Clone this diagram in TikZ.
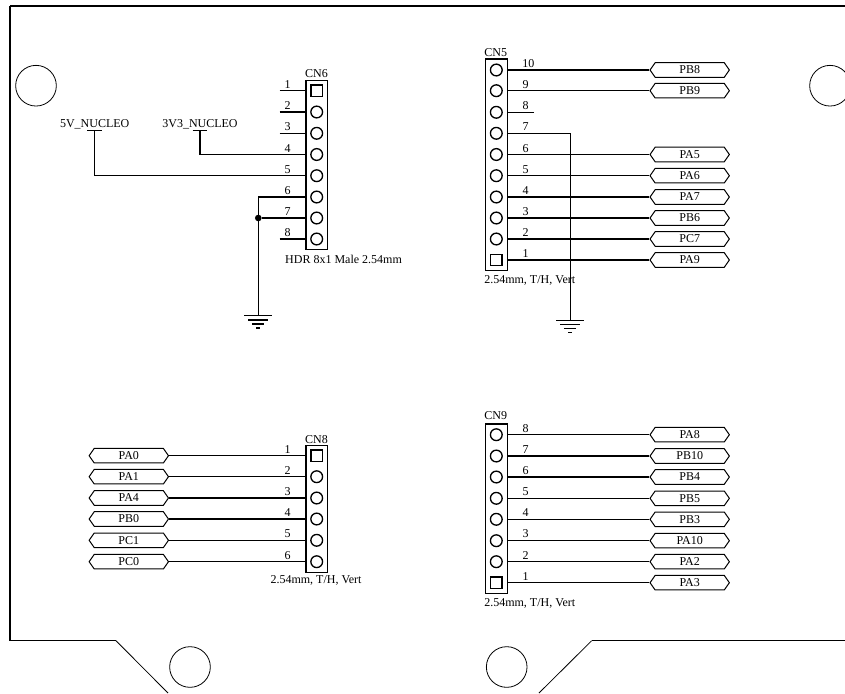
\documentclass[tikz,border=0pt]{standalone}
\usepackage{fontspec}
\setmainfont{Liberation Serif}
\usetikzlibrary{shapes.symbols}
\tikzset{
  every node/.style={inner sep=0pt,font=\fontsize{9}{10}\selectfont},
  wire/.style={line width=.8pt},
  hdr/.style={draw,rectangle,line width=.9pt,minimum width=16.2pt},
  hole/.style={draw,circle,line width=1pt,minimum size=8.8pt},
  sqhole/.style={draw,rectangle,line width=1pt,minimum size=8.4pt},
  net/.style={draw,signal,signal to=east and west,signal pointer angle=110,
    line width=.75pt,minimum width=59.5pt,minimum height=10.9pt},
  mount/.style={draw,circle,line width=.6pt,minimum size=30.5pt},
  dot/.style={fill,circle,minimum size=5pt},
}
\newcommand*{\gndbars}[1]{%
  \draw[wire] ([xshift=-10.5pt]#1) -- ([xshift=10.5pt]#1);
  \draw[wire] ([xshift=-7.5pt,yshift=-3.2pt]#1) -- ([xshift=7.5pt,yshift=-3.2pt]#1);
  \draw[wire] ([xshift=-4.5pt,yshift=-6.2pt]#1) -- ([xshift=4.5pt,yshift=-6.2pt]#1);
  \draw[wire] ([xshift=-1.6pt,yshift=-9.2pt]#1) -- ([xshift=1.6pt,yshift=-9.2pt]#1);
}

\begin{document}
\begin{tikzpicture}[x=.75pt,y=-.75pt]
\clip (0,0) rectangle (845,693);
% board outline
\coordinate (tl) at (10,6);
\coordinate (tr) at (845,6);
\coordinate (bl) at (10,640.7);
\coordinate (bla) at (116,640.7);
\coordinate (blb) at (168,693);
\coordinate (bra) at (539,693);
\coordinate (brb) at (591.7,640.7);
\coordinate (brc) at (845,640.7);
\draw[line width=1.3pt] (bl) -- (tl);
\draw[wire] (tl) -- (tr);
\draw[wire] (bl) -- (bla);
\draw[line width=.6pt] (bla) -- (blb);
\draw[line width=.6pt] (bra) -- (brb);
\draw[wire] (brb) -- (brc);
\node[mount] (mtl) at (36,85.7) {};
\node[mount] (mtr) at (830,85.7) {};
\node[mount] (mbl) at (190,667) {};
\node[mount] (mbr) at (506.7,667) {};

% CN6
\node[hdr,minimum height=127pt] (cn6) at (316.7,165) {};
\node (t6) at (316.5,73.5) {CN6};
\node (v6) at (343.5,259.5) {HDR 8x1 Male 2.54mm};
\node[sqhole] (p61) at (316.7,90.7) {};
\node[hole] (p62) at (316.7,112) {};
\node[hole] (p63) at (316.7,133.3) {};
\node[hole] (p64) at (316.7,154.5) {};
\node[hole] (p65) at (316.7,175.7) {};
\node[hole] (p66) at (316.7,197) {};
\node[hole] (p67) at (316.7,218) {};
\node[hole] (p68) at (316.7,239) {};
\node (n61) at (287.7,85) {1};
\node (n62) at (287.7,106) {2};
\node (n63) at (287.7,127) {3};
\node (n64) at (287.7,148.5) {4};
\node (n65) at (287.7,169.5) {5};
\node (n66) at (287.7,191) {6};
\node (n67) at (287.7,212) {7};
\node (n68) at (287.7,233) {8};
\coordinate (e61) at (279.5,90.7);
\coordinate (e62) at (279.5,112);
\coordinate (e63) at (279.5,133.3);
\coordinate (e68) at (279.5,239);
\draw[wire] (e61) -- (e61 -| cn6.west);
\draw[wire] (e62) -- (e62 -| cn6.west);
\draw[wire] (e63) -- (e63 -| cn6.west);
\draw[wire] (e68) -- (e68 -| cn6.west);
\node (v5n) at (94.7,124.5) {5V\_NUCLEO};
\node (v3n) at (200,124.5) {3V3\_NUCLEO};
\coordinate (v5t) at (94.7,130.7);
\coordinate (v3t) at (200,130.7);
\draw[wire] ([xshift=-5.5pt]v5t) -- ([xshift=5.5pt]v5t);
\draw[wire] ([xshift=-5.5pt]v3t) -- ([xshift=5.5pt]v3t);
\draw[wire] (v3t) |- (p64 -| cn6.west);
\draw[wire] (v5t) |- (p65 -| cn6.west);
\node[dot] (j6) at (258.3,218) {};
\coordinate (g6) at (258.3,315.7);
\draw[wire] (g6) |- (p66 -| cn6.west);
\draw[wire] (j6) -- (p67 -| cn6.west);
\gndbars{g6}

% CN5
\node[hdr,minimum height=158.8pt] (cn5) at (496.5,164.9) {};
\node (t5) at (495.7,52.5) {CN5};
\node (v5) at (529.8,280) {2.54mm, T/H, Vert};
\node[hole] (p510) at (496.3,70) {};
\node[hole] (p59) at (496.3,90.7) {};
\node[hole] (p58) at (496.3,112.3) {};
\node[hole] (p57) at (496.3,133.3) {};
\node[hole] (p56) at (496.3,154.5) {};
\node[hole] (p55) at (496.3,175.7) {};
\node[hole] (p54) at (496.3,197) {};
\node[hole] (p53) at (496.3,218) {};
\node[hole] (p52) at (496.3,239) {};
\node[sqhole] (p51) at (496.3,260) {};
\node (n510) at (528.3,63.5) {10};
\node (n59) at (525.5,84.5) {9};
\node (n58) at (525.5,106) {8};
\node (n57) at (525.5,127) {7};
\node (n56) at (525.5,148.5) {6};
\node (n55) at (525.5,169.5) {5};
\node (n54) at (525.5,191) {4};
\node (n53) at (525.5,212) {3};
\node (n52) at (525.5,233) {2};
\node (n51) at (525.5,254) {1};
\node[net] (pb8) at (689.7,70) {PB8};
\node[net] (pb9) at (689.7,90.7) {PB9};
\node[net] (pa5) at (689.7,154.5) {PA5};
\node[net] (pa6) at (689.7,175.7) {PA6};
\node[net] (pa7) at (689.7,197) {PA7};
\node[net] (pb6) at (689.7,218) {PB6};
\node[net] (pc7) at (689.7,239) {PC7};
\node[net] (pa9) at (689.7,260) {PA9};
\draw[wire] (pb8.west) -- (pb8.west -| cn5.east);
\draw[wire] (pb9.west) -- (pb9.west -| cn5.east);
\draw[wire] (pa5.west) -- (pa5.west -| cn5.east);
\draw[wire] (pa6.west) -- (pa6.west -| cn5.east);
\draw[wire] (pa7.west) -- (pa7.west -| cn5.east);
\draw[wire] (pb6.west) -- (pb6.west -| cn5.east);
\draw[wire] (pc7.west) -- (pc7.west -| cn5.east);
\draw[wire] (pa9.west) -- (pa9.west -| cn5.east);
\coordinate (e58) at (534,112.3);
\draw[wire] (e58) -- (e58 -| cn5.east);
\coordinate (g5) at (570.3,320.3);
\draw[wire] (g5) |- (p57 -| cn5.east);
\gndbars{g5}

% CN8
\node[hdr,minimum height=95.2pt] (cn8) at (316.7,508.8) {};
\node (t8) at (316.5,439.5) {CN8};
\node (v8) at (316,580) {2.54mm, T/H, Vert};
\node[sqhole] (p81) at (316.7,455.7) {};
\node[hole] (p82) at (316.7,476.7) {};
\node[hole] (p83) at (316.7,498) {};
\node[hole] (p84) at (316.7,519) {};
\node[hole] (p85) at (316.7,540.3) {};
\node[hole] (p86) at (316.7,561.7) {};
\node (n81) at (287.7,450) {1};
\node (n82) at (287.7,471) {2};
\node (n83) at (287.7,492) {3};
\node (n84) at (287.7,513) {4};
\node (n85) at (287.7,534) {5};
\node (n86) at (287.7,555.5) {6};
\node[net] (pa0) at (128.8,455.7) {PA0};
\node[net] (pa1) at (128.8,476.7) {PA1};
\node[net] (pa4) at (128.8,498) {PA4};
\node[net] (pb0) at (128.8,519) {PB0};
\node[net] (pc1) at (128.8,540.3) {PC1};
\node[net] (pc0) at (128.8,561.7) {PC0};
\draw[wire] (pa0.east) -- (pa0.east -| cn8.west);
\draw[wire] (pa1.east) -- (pa1.east -| cn8.west);
\draw[wire] (pa4.east) -- (pa4.east -| cn8.west);
\draw[wire] (pb0.east) -- (pb0.east -| cn8.west);
\draw[wire] (pc1.east) -- (pc1.east -| cn8.west);
\draw[wire] (pc0.east) -- (pc0.east -| cn8.west);

% CN9
\node[hdr,minimum height=127pt] (cn9) at (496.5,508.7) {};
\node (t9) at (495.7,415.8) {CN9};
\node (v9) at (529.8,603) {2.54mm, T/H, Vert};
\node[hole] (p98) at (496.3,434.7) {};
\node[hole] (p97) at (496.3,456) {};
\node[hole] (p96) at (496.3,477) {};
\node[hole] (p95) at (496.3,498.3) {};
\node[hole] (p94) at (496.3,519.3) {};
\node[hole] (p93) at (496.3,540.7) {};
\node[hole] (p92) at (496.3,561.7) {};
\node[sqhole] (p91) at (496.3,582.7) {};
\node (n98) at (525.5,428.5) {8};
\node (n97) at (525.5,449.5) {7};
\node (n96) at (525.5,471) {6};
\node (n95) at (525.5,492) {5};
\node (n94) at (525.5,513) {4};
\node (n93) at (525.5,534) {3};
\node (n92) at (525.5,555.5) {2};
\node (n91) at (525.5,576.5) {1};
\node[net] (pa8) at (689.7,434.7) {PA8};
\node[net] (pb10) at (689.7,456) {PB10};
\node[net] (pb4) at (689.7,477) {PB4};
\node[net] (pb5) at (689.7,498.3) {PB5};
\node[net] (pb3) at (689.7,519.3) {PB3};
\node[net] (pa10) at (689.7,540.7) {PA10};
\node[net] (pa2) at (689.7,561.7) {PA2};
\node[net] (pa3) at (689.7,582.7) {PA3};
\draw[wire] (pa8.west) -- (pa8.west -| cn9.east);
\draw[wire] (pb10.west) -- (pb10.west -| cn9.east);
\draw[wire] (pb4.west) -- (pb4.west -| cn9.east);
\draw[wire] (pb5.west) -- (pb5.west -| cn9.east);
\draw[wire] (pb3.west) -- (pb3.west -| cn9.east);
\draw[wire] (pa10.west) -- (pa10.west -| cn9.east);
\draw[wire] (pa2.west) -- (pa2.west -| cn9.east);
\draw[wire] (pa3.west) -- (pa3.west -| cn9.east);
\end{tikzpicture}
\end{document}
